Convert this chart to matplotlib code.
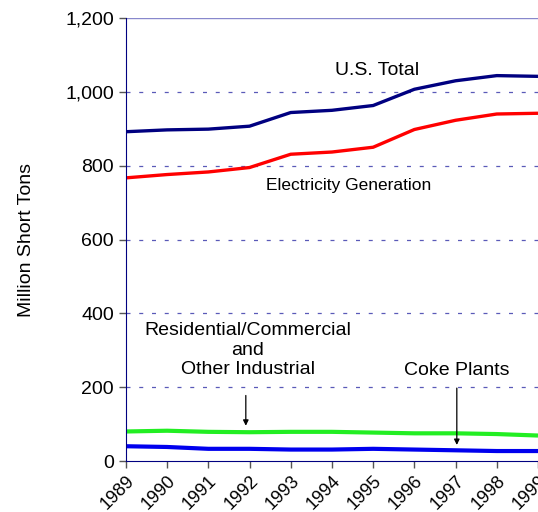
"""Coal consumption by sector, 1989-1999."""

import matplotlib

matplotlib.use("Agg")
import matplotlib.pyplot as plt

plt.rcParams["font.family"] = ["Liberation Sans", "DejaVu Sans"]

years = list(range(1989, 2000))
us_total = [892, 897, 899, 907, 944, 950, 963, 1007, 1030, 1044, 1042]
electricity = [767, 776, 783, 795, 831, 837, 850, 898, 923, 940, 942]
res_com_industrial = [80, 82, 79, 78, 79, 79, 77, 75, 75, 73, 69]
coke_plants = [40, 38, 33, 33, 31, 31, 33, 31, 29, 27, 27]

y_ticks = [0, 200, 400, 600, 800, 1000, 1200]
navy = "#000080"

fig = plt.figure(figsize=(5.38, 5.12), dpi=100)
ax = fig.add_axes([0.234, 0.0996, 0.766, 0.8652])

ax.plot(years, us_total, color=navy, linewidth=2.4, solid_capstyle="butt")
ax.plot(years, electricity, color="#ff0000", linewidth=2.4, solid_capstyle="butt")
ax.plot(years, res_com_industrial, color="#22ee22", linewidth=3, solid_capstyle="butt")
ax.plot(years, coke_plants, color="#0000ee", linewidth=3, solid_capstyle="butt")

ax.set_xlim(1989, 1999)
ax.set_ylim(0, 1200)
ax.set_yticks(y_ticks)
ax.set_yticklabels([f"{v:,}" for v in y_ticks], fontsize=14)
ax.set_xticks(years)
ax.set_xticklabels([str(y) for y in years], fontsize=13, rotation=45,
                   ha="right", rotation_mode="anchor")
ax.tick_params(axis="both", direction="out", length=5, color="#555555", width=1)
ax.tick_params(axis="x", pad=3)

for v in y_ticks[1:-1]:
    ax.axhline(v, color="#5a5ab8", linewidth=0.9, dashes=(3.2, 7), zorder=0)
ax.axhline(1200, color="#8888cc", linewidth=1, zorder=0)

for side in ["top", "right"]:
    ax.spines[side].set_visible(False)
ax.spines["left"].set_color(navy)
ax.spines["bottom"].set_color(navy)

ax.set_ylabel("Million Short Tons", fontsize=14, labelpad=22)

ax.text(1995.1, 1059, "U.S. Total", fontsize=14, ha="center", va="center")
ax.text(1994.41, 745, "Electricity Generation", fontsize=12.5,
        ha="center", va="center")
ax.text(1991.96, 300, "Residential/Commercial\nand\nOther Industrial", fontsize=14,
        ha="center", va="center", linespacing=1.2)
ax.annotate("", xy=(1991.91, 88), xytext=(1991.91, 185),
            arrowprops=dict(arrowstyle="-|>", color="black", lw=0.9,
                            mutation_scale=8))
ax.text(1997.03, 244, "Coke Plants", fontsize=14, ha="center", va="center")
ax.annotate("", xy=(1997.03, 36), xytext=(1997.03, 205),
            arrowprops=dict(arrowstyle="-|>", color="black", lw=0.9,
                            mutation_scale=8))

fig.savefig("out.png", dpi=100)
